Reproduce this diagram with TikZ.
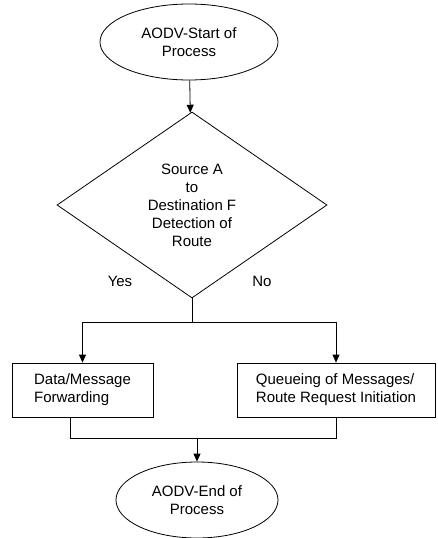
\documentclass[tikz,border=0pt]{standalone}
\usepackage{fontspec}
\setmainfont{Liberation Sans}
\usepackage{tikz}
\usetikzlibrary{arrows.meta, positioning, shapes.geometric}

\begin{document}
\begin{tikzpicture}[on grid,>={Triangle[length=8pt,width=7pt]},line width=0.8pt,
        font=\fontsize{15}{18}\selectfont,
        terminal/.style={draw,ellipse,align=center,inner sep=0pt,minimum width=178pt,minimum height=76pt},
        decision/.style={draw,diamond,align=center,inner sep=0pt,minimum width=270pt,minimum height=186pt},
        process/.style={draw,rectangle,align=left,inner sep=0pt,minimum height=54pt}]
    \useasboundingbox (-189pt,42pt) rectangle (248pt,-496pt);

      \node[terminal] (start) at (0,0) {AODV-Start of\\Process};
      \node[decision] (detect) [below=163pt of start,xshift=3pt] {Source A\\to\\Destination F\\Detection of\\Route};
      \node (yes) [below left=76pt and 72pt of detect] {Yes};
      \node (no) [below right=76pt and 70pt of detect] {No};
      \node[process,minimum width=141pt] (fwd) [below left=185pt and 109.5pt of detect] {Data/Message\\Forwarding};
      \node[process,minimum width=198pt] (queue) [below right=185pt and 144pt of detect] {Queueing of Messages/\\Route Request Initiation};
      \node[terminal,minimum width=162pt] (end) [below=295pt of detect,xshift=5pt] {AODV-End of\\Process};

      \coordinate (split) at ([yshift=-24pt]detect.south);
      \coordinate (merge) at ([yshift=23pt]end.north);

      \draw[->] (start) -- (detect);
      \draw (detect.south) -- (split);
      \draw[->] (split) -| (fwd.north);
      \draw[->] (split) -| (queue.north);
      \draw ([xshift=-12pt]fwd.south) |- (merge) -| (queue.south);
      \draw[->] (merge) -- (end.north);
    \end{tikzpicture}
\end{document}
